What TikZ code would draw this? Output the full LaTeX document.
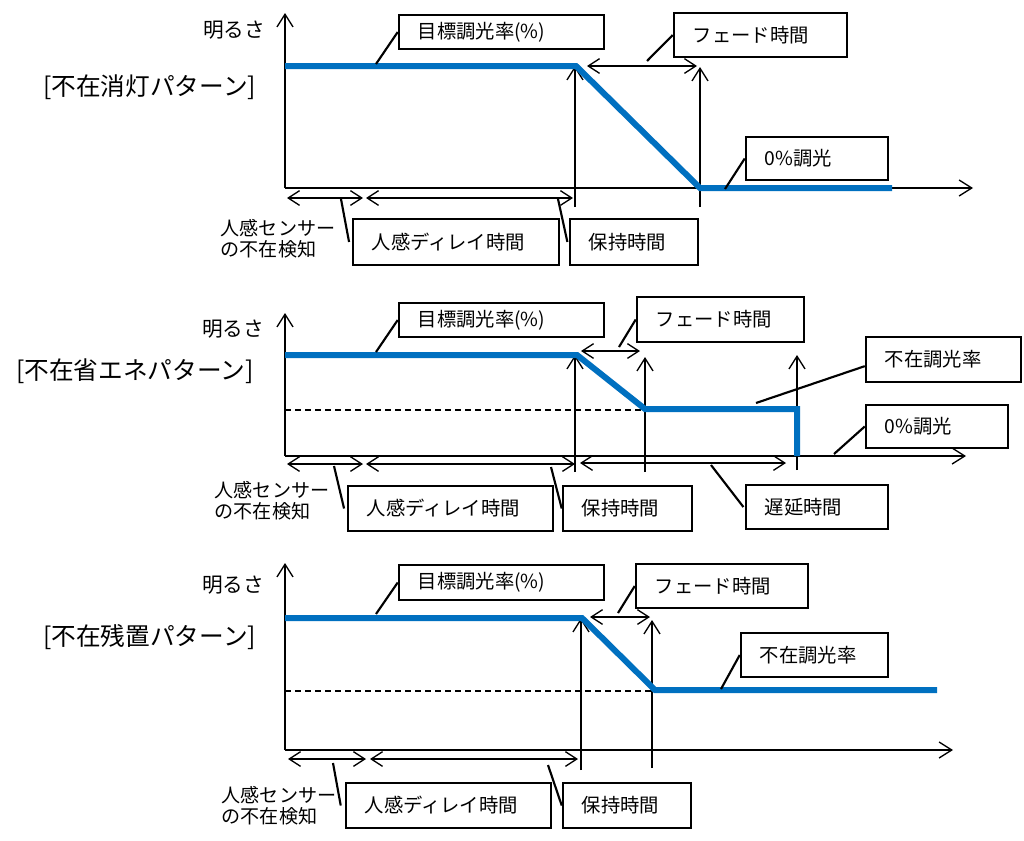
\documentclass[tikz,border=0pt]{standalone}
\usepackage{fontspec}
\setmainfont{Noto Sans CJK JP}
\usetikzlibrary{arrows.meta}
\definecolor{lineblue}{HTML}{0070C0}
\newcommand\mybox[6]{%
  \pgfmathsetmacro\myBW{(#4-#2)*0.75-28}%
  \pgfmathsetmacro\myBH{(#5-#3)*0.75}%
  \node[box,text width=\myBW pt,minimum height=\myBH pt] (#1) at ({(#2+#4)/2},{(#3+#5)/2}) {#6};}
\begin{document}
\begin{tikzpicture}[x=0.75pt,y=-0.75pt,
  ax/.style={line width=1pt,-{Straight Barb[length=9.5pt,width=12pt]}},
  dbl/.style={line width=1pt,{Straight Barb[length=8.5pt,width=11pt]}-{Straight Barb[length=8.5pt,width=11pt]}},
  lead/.style={line width=1.6pt},
  curve/.style={draw=lineblue,line width=4.5pt},
  dashref/.style={line width=1pt,dash pattern=on 4.5pt off 3pt},
  box/.style={draw,line width=1.9pt,fill=white,align=left,inner xsep=14pt,inner ysep=0pt,font=\fontsize{14.5}{17}\selectfont},
  title/.style={anchor=west,inner sep=0pt,font=\fontsize{18.5}{21}\selectfont},
  ylab/.style={inner sep=0pt,font=\fontsize{15.5}{18}\selectfont},
  sens/.style={inner sep=0pt,align=left,font=\fontsize{14.3}{15.75}\selectfont}]
\fill[white] (0,0) rectangle (1024,840);
\useasboundingbox (0,0) rectangle (1024,840);

% ===================== Panel 1 =====================
\node[title] (T1) at (43,87) {[不在消灯パターン]};
\node[ylab] (Y1) at (234,30) {明るさ};
\node[sens] (S1) at (278,239) {人感センサー\\の不在検知};
\draw[ax] (285,188) -- (285,13);
\draw[ax] (285,188) -- (973,188);
\draw[ax] (575,207) -- (575,66);
\draw[ax] (700,207) -- (700,67);
\draw[dbl] (287,198) -- (363,198);
\draw[dbl] (366,198) -- (573,198);
\draw[dbl] (587,66) -- (697,66);
\draw[curve] (285,66) -- (576,66) -- (700,188) -- (892,188);
\mybox{t1}{399}{15}{604}{49}{目標調光率(\%)}
\mybox{f1}{674}{13}{847}{57}{フェード時間}
\mybox{z1}{746}{137}{888}{180}{0\%調光}
\mybox{d1}{353}{219}{559}{265}{人感ディレイ時間}
\mybox{h1}{570}{219}{698}{265}{保持時間}
\coordinate (pt1) at (376,64);
\coordinate (pf1) at (647,61);
\coordinate (pz1) at (725,189);
\coordinate (pd1) at (341,199);
\coordinate (ph1) at (558,199);
\draw[lead] (pt1) -- (t1.west);
\draw[lead] (pf1) -- (f1.west);
\draw[lead] (pz1) -- (z1.west);
\draw[lead] (pd1) -- ([xshift=-2pt]d1.west);
\draw[lead] (ph1) -- ([xshift=-1pt]h1.west);

% ===================== Panel 2 =====================
\node[title] (T2) at (16,371) {[不在省エネパターン]};
\node[ylab] (Y2) at (233,329) {明るさ};
\node[sens] (S2) at (272,501) {人感センサー\\の不在検知};
\draw[ax] (285,456) -- (285,313);
\draw[ax] (285,456) -- (966,456);
\draw[dashref] (285,410) -- (643,410);
\draw[ax] (575,472) -- (575,355);
\draw[ax] (645,472) -- (645,357);
\draw[ax] (797,470) -- (797,355);
\draw[dbl] (287,464) -- (363,464);
\draw[dbl] (366,464) -- (575,464);
\draw[dbl] (580,463) -- (786,463);
\draw[dbl] (581,351) -- (640,351);
\draw[curve] (285,355) -- (577,355) -- (645,409) -- (797,409) -- (797,456);
\mybox{t2}{399}{303}{604}{337}{目標調光率(\%)}
\mybox{f2}{637}{297}{804}{342}{フェード時間}
\mybox{a2}{866}{337}{1021}{382}{不在調光率}
\mybox{z2}{866}{405}{1008}{448}{0\%調光}
\mybox{d2}{348}{486}{553}{531}{人感ディレイ時間}
\mybox{h2}{563}{486}{692}{531}{保持時間}
\mybox{l2}{746}{485}{888}{529}{遅延時間}
\coordinate (pt2) at (376,352);
\coordinate (pf2) at (619,347);
\coordinate (pa2) at (756,403);
\coordinate (pz2) at (834,454);
\coordinate (pd2) at (334,466);
\coordinate (ph2) at (551,467);
\coordinate (pl2) at (711,465);
\draw[lead] (pt2) -- (t2.west);
\draw[lead] (pf2) -- (f2.west);
\draw[lead] (pa2) -- ([yshift=-5pt]a2.west);
\draw[lead] (pz2) -- (z2.west);
\draw[lead] (pd2) -- ([xshift=-2pt]d2.west);
\draw[lead] (ph2) -- (h2.west);
\draw[lead] (pl2) -- ([xshift=-1pt]l2.west);

% ===================== Panel 3 =====================
\node[title] (T3) at (43,637) {[不在残置パターン]};
\node[ylab] (Y3) at (233,585) {明るさ};
\node[sens] (S3) at (279,806) {人感センサー\\の不在検知};
\draw[ax] (285,750) -- (285,563);
\draw[ax] (285,750) -- (953,750);
\draw[dashref] (285,691) -- (652,691);
\draw[ax] (581,770) -- (581,618);
\draw[ax] (652,768) -- (652,620);
\draw[dbl] (288,759) -- (366,759);
\draw[dbl] (370,759) -- (578,759);
\draw[dbl] (590,617) -- (650,617);
\draw[curve] (285,618) -- (582,618) -- (655,690) -- (937,690);
\mybox{t3}{399}{565}{604}{600}{目標調光率(\%)}
\mybox{f3}{636}{564}{808}{608}{フェード時間}
\mybox{a3}{741}{633}{888}{677}{不在調光率}
\mybox{d3}{346}{783}{551}{828}{人感ディレイ時間}
\mybox{h3}{563}{783}{691}{828}{保持時間}
\coordinate (pt3) at (376,614);
\coordinate (pf3) at (618,613);
\coordinate (pa3) at (721,689);
\coordinate (pd3) at (333,763);
\coordinate (ph3) at (548,765);
\draw[lead] (pt3) -- (t3.west);
\draw[lead] (pf3) -- (f3.west);
\draw[lead] (pa3) -- (a3.west);
\draw[lead] (pd3) -- ([xshift=-3pt]d3.west);
\draw[lead] (ph3) -- (h3.west);
\end{tikzpicture}
\end{document}
